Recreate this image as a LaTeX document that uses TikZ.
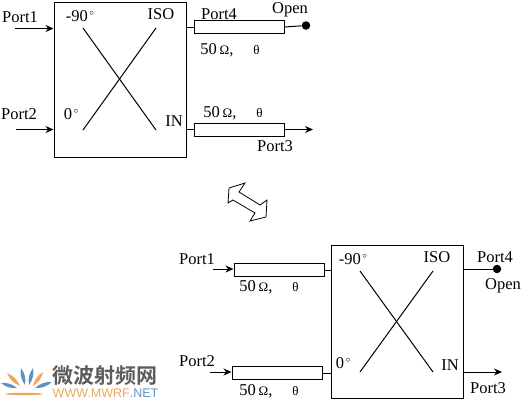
\documentclass[tikz,border=0pt]{standalone}
\usepackage{fontspec}
\setmainfont{Liberation Serif}
\newfontfamily\logofont{Noto Sans CJK SC}[BoldFont={* Bold}]
\newfontfamily\logosans{Liberation Sans}
\usepackage{xcolor}
\usetikzlibrary{arrows.meta, positioning, calc}
\definecolor{logoblue}{RGB}{96, 146, 190}
\definecolor{logoorange}{RGB}{236, 168, 92}
\definecolor{logogray}{RGB}{92, 92, 92}
\newcommand{\degs}[1]{#1\raisebox{0.38em}{\fontsize{9}{9}\selectfont\,$\circ$}}
\newcommand{\smallsym}[1]{{\fontsize{13}{13}\selectfont #1}}
\newcommand{\lineval}{50\,\smallsym{Ω},\hspace{1.2em}\smallsym{θ}}
\tikzset{
  couplerbox/.style={draw, line width=1pt, minimum width=132pt, minimum height=#1, inner sep=0pt},
  linebox/.style={draw, line width=1pt, minimum width=90pt, minimum height=13pt, inner sep=0pt},
  lbl/.style={font=\fontsize{16.5}{16.5}\selectfont, inner sep=0pt},
  wire/.style={line width=1pt},
  portarrow/.style={line width=1pt, -{Stealth[length=8pt,width=7pt]}},
  opendot/.style={circle, fill=black, minimum size=8.5pt, inner sep=0pt},
  petal/.style={fill=#1}
}
\begin{document}
\begin{tikzpicture}[x=1pt, y=-1pt]
  \useasboundingbox (0,0) rectangle (524,400);
  % upper circuit
  \node[couplerbox=155pt] (coupA) at (120,79.5) {};
  \node[linebox] (lineD) at (239,27) {};
  \node[linebox] (lineC) at (239.5,129.5) {};
  \node[opendot] (dotA) at (306,25.5) {};
  \coordinate (inA1) at (15,28.5);
  \coordinate (inA2) at (16,129.5);
  \coordinate (outA) at (313,129.5);
  \draw[portarrow] (inA1) -- (inA1 -| coupA.west);
  \draw[portarrow] (inA2) -- (inA2 -| coupA.west);
  \draw[wire] (lineD.west) -- (lineD.west -| coupA.east);
  \draw[wire] (lineC.west) -- (lineC.west -| coupA.east);
  \draw[wire] (lineD.east) -- (dotA);
  \draw[portarrow] (lineC.east) -- (outA);
  \coordinate (a1) at (83,28);
  \coordinate (a2) at (156,28);
  \coordinate (a3) at (83,130);
  \coordinate (a4) at (156,130);
  \draw[wire] (a1) -- (a4);
  \draw[wire] (a2) -- (a3);
  \node[lbl] (p1a) at (20,17) {Port1};
  \node[lbl] (p2a) at (19,114) {Port2};
  \node[lbl] (p4a) at (219,14) {Port4};
  \node[lbl] (p3a) at (275,146) {Port3};
  \node[lbl] (opA) at (290,10) {Open};
  \node[lbl] (m90a) at (80,16) {\degs{-90}};
  \node[lbl] (isoa) at (161,14) {ISO};
  \node[lbl] (z0a) at (71,114) {\degs{0}};
  \node[lbl] (ina) at (174,121) {IN};
  \node[lbl] (valD) at (230,50) {\lineval};
  \node[lbl] (valC) at (233,113) {\lineval};

  % double arrow
  \draw[line width=0.8pt] (245,183) -- (229,188) -- (228,203) -- (233,200) -- (255,213) -- (250,221) -- (266,217) -- (267,200) -- (260,205) -- (239,192) -- cycle;

  % lower circuit
  \node[couplerbox=153pt] (coupB) at (397,321.5) {};
  \node[linebox] (lineA) at (279,270) {};
  \node[linebox] (lineB) at (277,373) {};
  \node[opendot] (dotB) at (497,269) {};
  \coordinate (inB1) at (213,269);
  \coordinate (inB2) at (210,372);
  \coordinate (outB) at (502,372);
  \draw[portarrow] (inB1) -- (inB1 -| lineA.west);
  \draw[portarrow] (inB2) -- (inB2 -| lineB.west);
  \draw[wire] (lineA.east) -- (lineA.east -| coupB.west);
  \draw[wire] (lineB.east) -- (lineB.east -| coupB.west);
  \draw[wire] (dotB -| coupB.east) -- (dotB);
  \draw[portarrow] (outB -| coupB.east) -- (outB);
  \coordinate (b1) at (360,271);
  \coordinate (b2) at (433,271);
  \coordinate (b3) at (360,372);
  \coordinate (b4) at (433,372);
  \draw[wire] (b1) -- (b4);
  \draw[wire] (b2) -- (b3);
  \node[lbl] (p1b) at (197,259) {Port1};
  \node[lbl] (p2b) at (197,361) {Port2};
  \node[lbl] (p4b) at (495,257) {Port4};
  \node[lbl] (p3b) at (488,388) {Port3};
  \node[lbl] (opB) at (503,286) {Open};
  \node[lbl] (m90b) at (353,259) {\degs{-90}};
  \node[lbl] (isob) at (437,257) {ISO};
  \node[lbl] (z0b) at (343,363) {\degs{0}};
  \node[lbl] (inb) at (450,365) {IN};
  \node[lbl] (valA) at (269,287) {\lineval};
  \node[lbl] (valB) at (269,391) {\lineval};

  % logo
  \foreach \tx/\ty/\rx/\ry/\c in {1/383/17/388/logoblue, 7/373/20/386/logoorange, 21/368/25/385/logoblue, 33/368/29/385/logoblue, 43/372/33/386/logoorange, 52/382/35/388/logoblue}
    \fill[petal=\c] (\rx,\ry) to[bend left=22] (\tx,\ty) to[bend left=22] (\rx,\ry);
  \fill[logoorange] (24,394) ellipse (19pt and 1.2pt);
  \node[inner sep=0pt, text=logogray, font=\logofont\bfseries\fontsize{21}{21}\selectfont] (logotext) at (105,376) {微波射频网};
  \node[inner sep=0pt, text=logoorange, font=\logosans\fontsize{12.5}{13}\selectfont] (logourl) at (105.5,393.5) {WWW.MWRF{\color{logoblue}.NET}};
\end{tikzpicture}
\end{document}
